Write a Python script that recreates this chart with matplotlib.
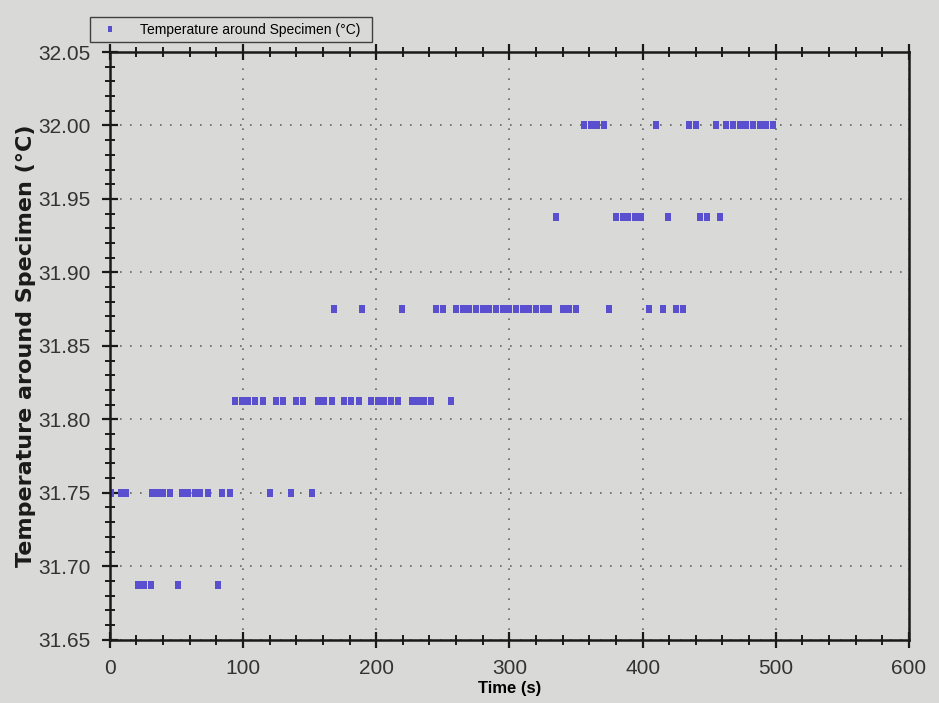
import matplotlib
matplotlib.use('Agg')
import matplotlib.pyplot as plt
from matplotlib.ticker import MultipleLocator, FormatStrFormatter

t_6875 = [21, 26, 31, 51, 81]
t_7500 = [1, 8, 12, 32, 36, 40, 45, 54, 59, 64, 68, 74, 84, 90, 120, 136, 152]
t_8125 = [94, 99, 104, 109, 115, 125, 130, 140, 145, 156, 161, 167, 176, 181, 187,
          196, 201, 206, 211, 216, 227, 231, 236, 241, 256]
t_8750 = [168, 189, 219, 245, 250, 260, 265, 270, 275, 280, 285, 290, 295, 300, 305,
          310, 315, 320, 325, 330, 340, 345, 350, 375, 405, 415, 425, 430]
t_9375 = [335, 380, 385, 389, 394, 399, 419, 443, 448, 458]
t_0000 = [356, 361, 366, 371, 410, 435, 440, 455, 463, 468, 473, 478, 483, 488, 493, 498]

levels = [31.6875, 31.75, 31.8125, 31.875, 31.9375, 32.0]
times = [t_6875, t_7500, t_8125, t_8750, t_9375, t_0000]

zeit = []
temp = []
for lv, ts in zip(levels, times):
    for t in ts:
        zeit.append(t)
        temp.append(lv)

narrow = ['Liberation Sans', 'DejaVu Sans']
bg = '#d9d9d7'
# hochkant Rechteck als Marker
rect = [(-0.33, -0.5), (0.33, -0.5), (0.33, 0.5), (-0.33, 0.5), (-0.33, -0.5)]

fig = plt.figure(figsize=(9.39, 7.03), dpi=100, facecolor=bg)
ax = fig.add_axes([0.117, 0.09, 0.851, 0.836], facecolor=bg)

ax.plot(zeit, temp, marker=rect, color='#5a4fcf', markersize=5.5, markeredgewidth=0,
        linestyle='none', snap=False, label='Temperature around Specimen (°C)')

ax.set_xlim(0, 600)
ax.set_ylim(31.65, 32.05)
ax.xaxis.set_major_locator(MultipleLocator(100))
ax.xaxis.set_minor_locator(MultipleLocator(20))
ax.yaxis.set_major_locator(MultipleLocator(0.05))
ax.yaxis.set_minor_locator(MultipleLocator(0.01))
ax.yaxis.set_major_formatter(FormatStrFormatter('%.2f'))

ax.grid(True, which='major', linestyle=(0, (1, 5)), color='#666666', linewidth=1.2)
for s in ax.spines.values():
    s.set_linewidth(1.8)
    s.set_color('#1a1a1a')

ax.tick_params(axis='both', which='both', direction='inout', color='#1a1a1a')
ax.tick_params(axis='both', which='major', length=12, width=1.6, pad=8)
ax.tick_params(axis='both', which='minor', length=7, width=1.4)
ax.tick_params(axis='x', top=True, which='both')
for lab in ax.get_xticklabels() + ax.get_yticklabels():
    lab.set_family(narrow)
    lab.set_fontsize(15)
    lab.set_color('#333333')

ax.set_xlabel('Time (s)', family=narrow, fontsize=12, fontweight='bold')
ax.xaxis.set_label_coords(0.5, -0.07)
ax.set_ylabel('Temperature around Specimen (°C)', fontsize=16, fontweight='bold',
              color='#1a1a1a')
ax.yaxis.set_label_coords(-0.092, 0.5)

fig.legend(loc='lower left', bbox_to_anchor=(0.096, 0.94, 0.3, 0.045), mode='expand',
           frameon=True, fancybox=False, edgecolor='#1a1a1a', facecolor=bg,
           prop={'family': narrow, 'size': 10}, markerscale=0.7, handletextpad=1.2,
           borderaxespad=0)

fig.savefig('out.png', dpi=100, facecolor=bg)
